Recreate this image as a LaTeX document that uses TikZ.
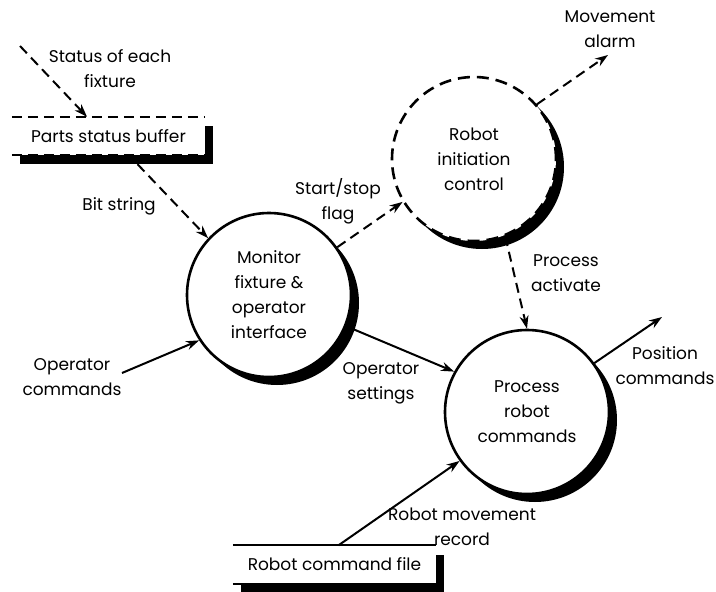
\documentclass[tikz,border=0pt]{standalone}
\usepackage{fontspec}
\setmainfont{Poppins}
\usetikzlibrary{shadows,arrows.meta}

\begin{document}
\begin{tikzpicture}[x=1pt, y=-1pt, font=\fontsize{17}{25}\selectfont, line join=round, >={Stealth[length=13pt,width=9pt]},
	proc/.style={circle, draw, line width=2.6pt, fill=white, minimum size=164pt, inner sep=0pt, align=center,
		drop shadow={shadow xshift=8pt, shadow yshift=-8pt, opacity=1, fill=black}},
	store/.style={fill=white, minimum height=38pt, inner sep=0pt,
		drop shadow={shadow xshift=8pt, shadow yshift=-9pt, opacity=1, fill=black}},
	flow/.style={->, line width=2pt},
	ctrl/.style={->, line width=2pt, dash pattern=on 10pt off 6pt},
	lbl/.style={align=center, inner sep=0pt}]
			\useasboundingbox (0,0) rectangle (716,592);
			% processes
			\node[proc] (monitor) at (269,295) {Monitor\\fixture \&\\operator\\interface};
			\node[proc, dash pattern=on 12pt off 7pt] (init) at (474,159) {Robot\\initiation\\control};
			\node[proc] (robot) at (527,412) {Process\\robot\\commands};
			% stores
			\node[store, minimum width=193pt] (buffer) at (108.5,136) {Parts status buffer};
			\draw[line width=2pt, dash pattern=on 10pt off 6pt] (buffer.north west) -- (buffer.north east);
			\draw[line width=2pt, dash pattern=on 10pt off 6pt] (buffer.south west) -- (buffer.south east);
			\node[store, minimum width=203pt] (file) at (334.5,564.5) {Robot command file};
			\draw[line width=2pt] (file.north west) -- (file.north east);
			\draw[line width=2pt] (file.south west) -- (file.south east);
			% free ends
			\coordinate (statusin) at (20,46);
			\coordinate (opin) at (122,373);
			\coordinate (alarmout) at (608,55);
			\coordinate (posout) at (662,317);
			% flows
			\draw[ctrl] (statusin) -- ([xshift=-21.5pt]buffer.north);
			\draw[ctrl] ([xshift=29pt,yshift=-9pt]buffer.south) -- (monitor.137);
			\draw[flow] (opin) -- (monitor.213);
			\draw[ctrl] (monitor.35) -- (init.211);
			\draw[ctrl] (init.41) -- (alarmout);
			\draw[ctrl] (init.292) -- (robot.90);
			\draw[flow] (monitor.-22) -- (robot.151);
			\draw[flow] (robot.36) -- (posout);
			\draw[flow] ([xshift=4pt]file.north) -- (robot.216);
			% labels
			\node[lbl] (status) at (110,69) {Status of each\\fixture};
			\node[lbl] (bits) at (119,206) {Bit string};
			\node[lbl] (startstop) at (338,201) {Start/stop\\flag};
			\node[lbl] (alarm) at (610,29) {Movement\\alarm};
			\node[lbl] (activate) at (566,273) {Process\\activate};
			\node[lbl] (position) at (665,366) {Position\\commands};
			\node[lbl] (opcmd) at (72,377) {Operator\\commands};
			\node[lbl] (opset) at (381,383) {Operator\\settings};
			\node[lbl] (movrec) at (462,527) {Robot movement\\record};
		\end{tikzpicture}
\end{document}
